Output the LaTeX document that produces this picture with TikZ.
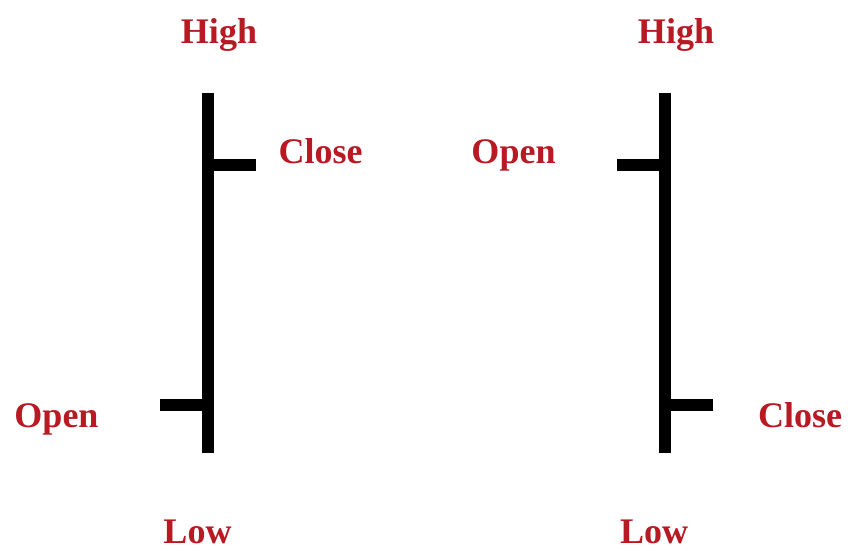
\documentclass[tikz,border=0pt]{standalone}
\usepackage{fontspec}
\setmainfont{Liberation Serif}
\definecolor{lblred}{RGB}{185,25,35}
\begin{document}
\begin{tikzpicture}[x=1pt,y=-1pt,
  bar/.style={line width=12.5pt,black,line cap=butt},
  lbl/.style={inner sep=0pt,anchor=base,text=lblred,font=\fontsize{36}{36}\selectfont\bfseries}]
\useasboundingbox[fill=white] (0,0) rectangle (848,550);
% left bar
\coordinate (lh) at (208,93);
\coordinate (ll) at (208,453);
\coordinate (lc) at (208,165);
\coordinate (lcx) at (256,165);
\coordinate (lo) at (208,405);
\coordinate (lox) at (160,405);
\draw[bar] (lh) -- (ll);
\draw[bar] (lc) -- (lcx);
\draw[bar] (lo) -- (lox);
% right bar
\coordinate (rh) at (665,93);
\coordinate (rl) at (665,453);
\coordinate (ro) at (665,165);
\coordinate (rox) at (617,165);
\coordinate (rc) at (665,405);
\coordinate (rcx) at (713,405);
\draw[bar] (rh) -- (rl);
\draw[bar] (ro) -- (rox);
\draw[bar] (rc) -- (rcx);
% labels
\node[lbl] (hl) at (219,43) {High};
\node[lbl] (cl) at (320.5,163) {Close};
\node[lbl] (ol) at (56.5,427) {Open};
\node[lbl] (lwl) at (197.5,543) {Low};
\node[lbl] (hr) at (676,43) {High};
\node[lbl] (or) at (513.5,163) {Open};
\node[lbl] (cr) at (800,427) {Close};
\node[lbl] (lwr) at (654,543) {Low};
\end{tikzpicture}
\end{document}
